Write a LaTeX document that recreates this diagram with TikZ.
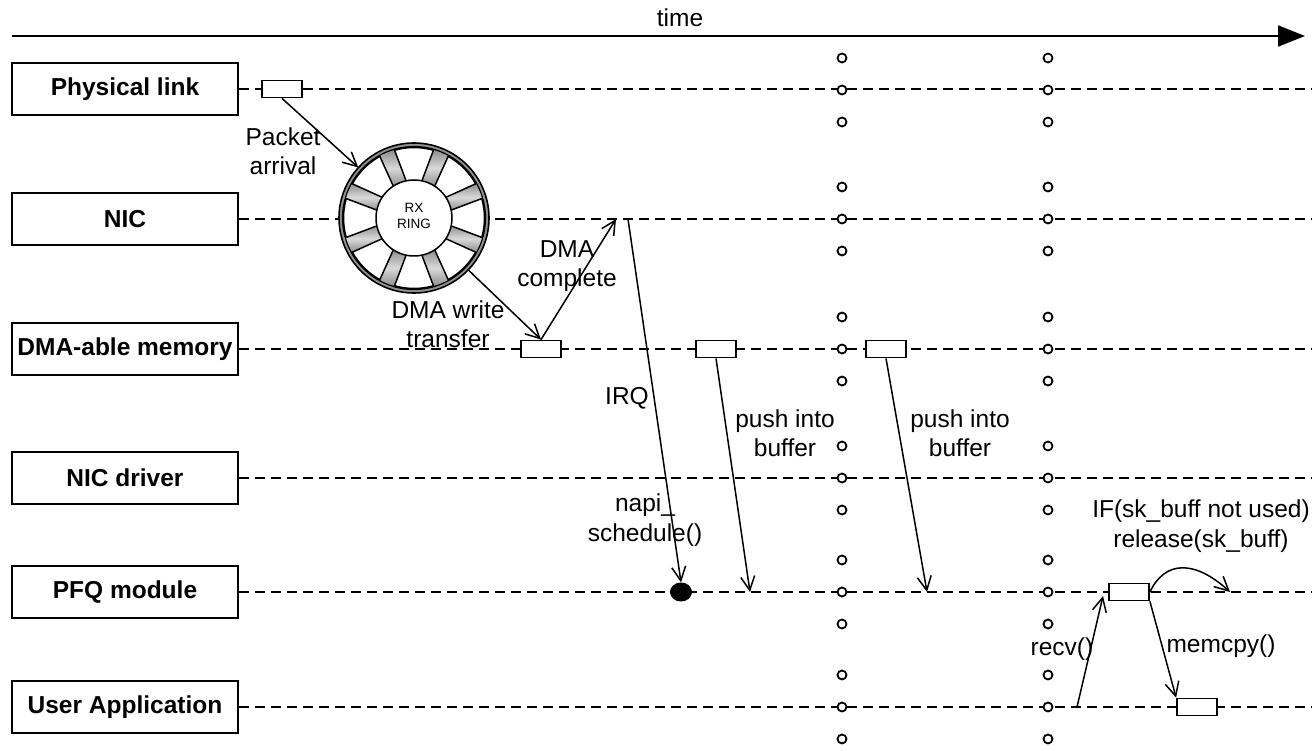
\documentclass[tikz,border=0pt]{standalone}
\usepackage{fontspec}
\setmainfont{Liberation Sans}
\usetikzlibrary{arrows.meta,shapes.geometric}
\begin{document}
\begin{tikzpicture}[x=1pt,y=-1pt, font=\fontsize{24.5}{29.5}\selectfont,
  rowbox/.style={draw, line width=2pt, fill=white, minimum width=226pt, minimum height=52pt, inner sep=0pt, font=\fontsize{24.5}{29.5}\selectfont\bfseries},
  pkt/.style={draw, line width=1.8pt, fill=white, minimum width=40pt, minimum height=17pt, inner sep=0pt},
  life/.style={line width=1.8pt, dash pattern=on 10pt off 6pt},
  tick/.style={circle, draw, line width=1.8pt, fill=white, minimum size=9pt, inner sep=0pt},
  msg/.style={line width=1.5pt, -{Straight Barb[length=14pt,width=14pt]}},
  lbl/.style={align=center, inner sep=0pt}]
\useasboundingbox (0,0) rectangle (1312,751);

% time axis
\coordinate (t0) at (12,36);
\coordinate (t1) at (1305,36);
\draw[line width=2pt, -{Triangle[length=27pt,width=21pt]}] (t0) -- (t1);
\node (time) at (680,18) {time};

% rows
\node[rowbox] (pl) at (125,89) {Physical link};
\node[rowbox] (nic) at (125,219) {NIC};
\node[rowbox] (dma) at (125,349) {DMA-able memory};
\node[rowbox] (drv) at (125,478) {NIC driver};
\node[rowbox] (pfq) at (125,592) {PFQ module};
\node[rowbox] (usr) at (125,707) {User Application};

\coordinate (plE) at (1312,89);
\coordinate (nicE) at (1312,219);
\coordinate (dmaE) at (1312,349);
\coordinate (drvE) at (1312,478);
\coordinate (pfqE) at (1312,592);
\coordinate (usrE) at (1312,707);

\draw[life] (pl.east) -- (plE);
\draw[life] (nic.east) -- (nicE);
\draw[life] (dma.east) -- (dmaE);
\draw[life] (drv.east) -- (drvE);
\draw[life] (pfq.east) -- (pfqE);
\draw[life] (usr.east) -- (usrE);

% break markers
\foreach \cx in {842,1048}
  \foreach \ry in {90,219,349,478,592,707}
    \foreach \dy in {-32,0,32}
      \node[tick] (o-\cx-\ry-\dy) at (\cx,\ry+\dy) {};

% RX ring
\node[circle, minimum size=150pt, inner sep=0pt] (ring) at (414,218) {};
\begin{scope}[shift={(414,218)}]
  \fill[gray!85] (0,0) circle (75);
  \foreach \s in {22.5,67.5,...,337.5}
    \shade[rotate=\s, top color=gray!95, bottom color=gray!95, middle color=gray!30]
      (36,-9) rectangle (72,9);
  \draw[line width=1.6pt] (0,0) circle (75);
  \draw[line width=1.2pt] (0,0) circle (71.5);
  \foreach \a in {0,45,...,315}
    \draw[line width=1.5pt, fill=white] (\a-12:38) -- (\a-16:70.5)
      arc[start angle=\a-16, end angle=\a+16, radius=70.5] -- (\a+12:38) -- cycle;
  \draw[line width=1.5pt, fill=white] (0,0) circle (38);
\end{scope}
\node[lbl, font=\fontsize{13.5}{16}\selectfont] (rx) at (414,216) {RX\\RING};

% packets / buffers
\node[pkt] (p1) at (282,89) {};
\node[pkt] (m1) at (541,349) {};
\node[pkt] (m2) at (716,349) {};
\node[pkt] (m3) at (886,349) {};
\node[pkt] (q1) at (1129,592) {};
\node[pkt] (u1) at (1197,707) {};
\node[ellipse, fill=black, minimum width=22pt, minimum height=19pt, inner sep=0pt] (dot) at (681,592) {};

\coordinate (c1) at (616,219);
\coordinate (c2) at (628,219);
\coordinate (c3) at (750,592);
\coordinate (c4) at (927,592);
\coordinate (c5) at (1077,707);
\coordinate (c6) at (1103,596);
\coordinate (c7) at (1230,592);

% messages
\draw[msg] (p1.south) -- (ring);
\draw[msg] (ring) -- (m1.north);
\draw[msg] (m1.north) -- (c1);
\draw[msg] (c2) -- (dot.north);
\draw[msg] (m2.south) -- (c3);
\draw[msg] (m3.south) -- (c4);
\draw[msg] (c5) -- (c6);
\draw[msg] (q1.south east) -- (u1.north west);
\draw[msg] (q1.east) .. controls (1165,560) and (1195,560) .. (c7);

% labels
\node[lbl] (la) at (283,151) {Packet\\arrival};
\node[lbl] (lb) at (448,324) {DMA write\\transfer};
\node[lbl] (lc) at (567,266) {DMA\\complete};
\node[lbl] (ld) at (627,398) {IRQ};
\node[lbl] (le) at (645,520) {napi\_\\schedule()};
\node[lbl] (lf) at (785,433) {push into\\buffer};
\node[lbl] (lg) at (960,433) {push into\\buffer};
\node[lbl] (lh) at (1201,526) {IF(sk\_buff not used)\\release(sk\_buff)};
\node[lbl] (li) at (1062,649) {recv()};
\node[lbl] (lj) at (1221,646) {memcpy()};
\end{tikzpicture}
\end{document}
